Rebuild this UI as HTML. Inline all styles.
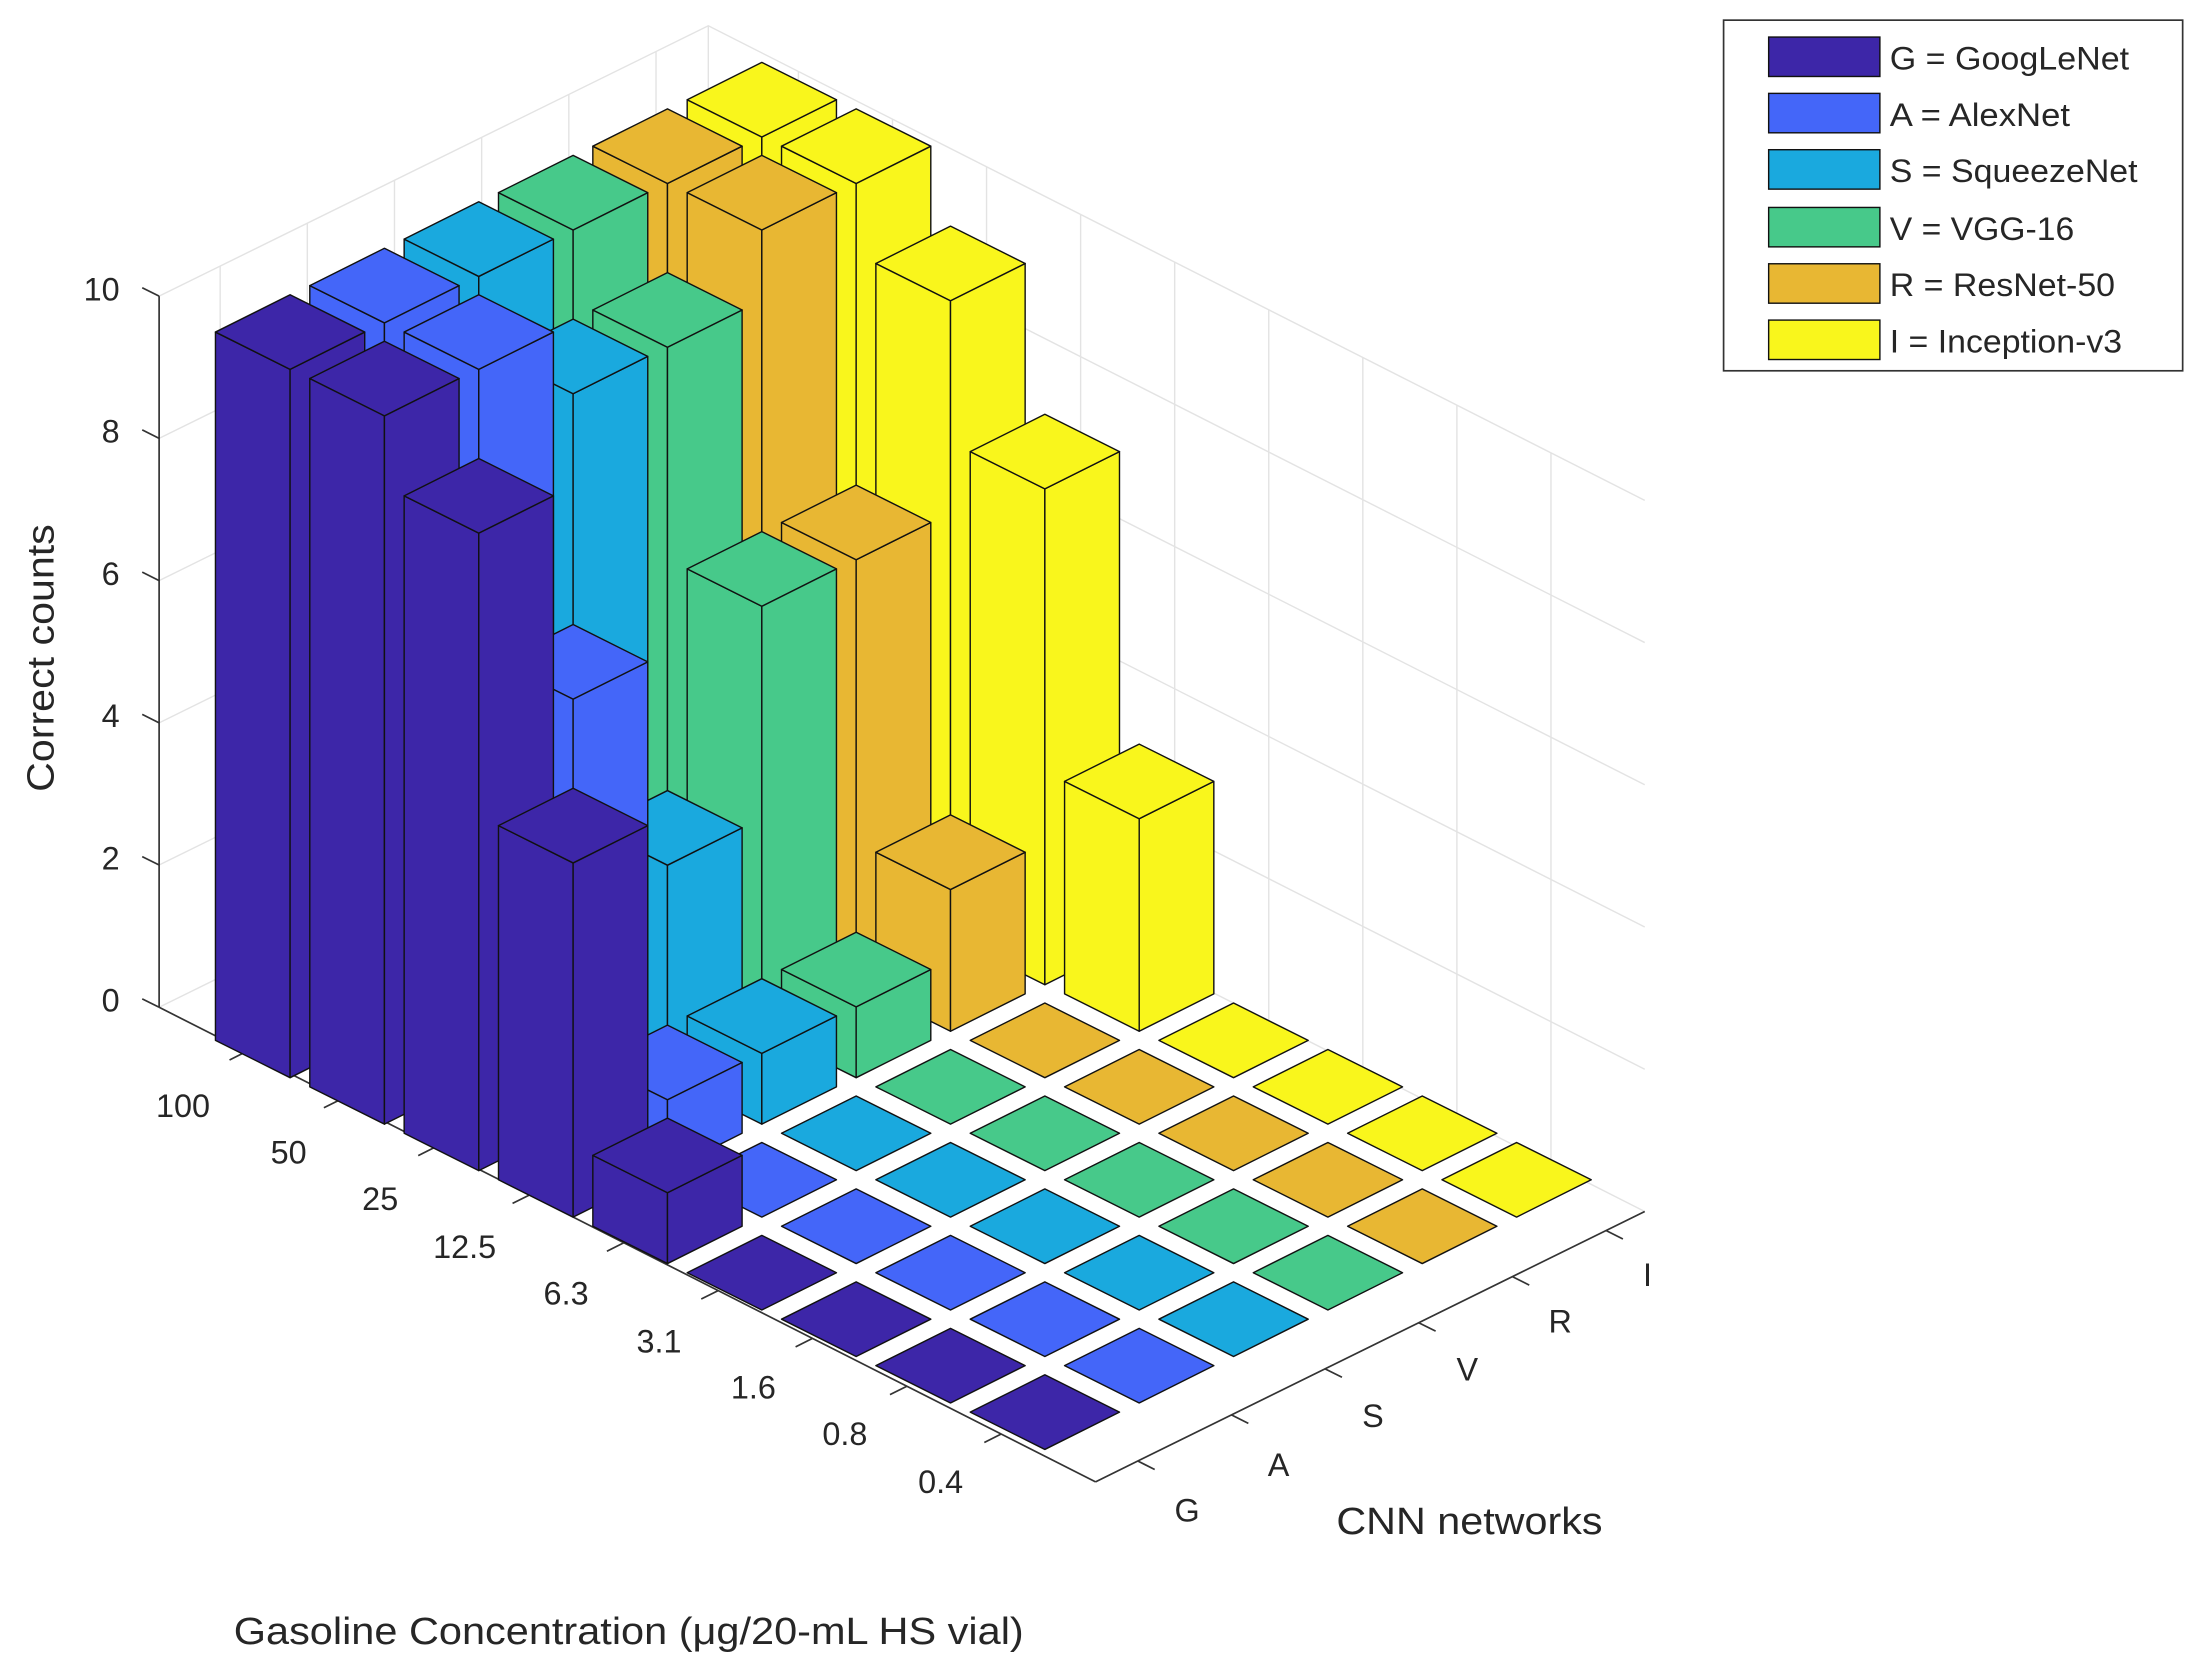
<!DOCTYPE html>
<html><head><meta charset="utf-8">
<style>
html,body{margin:0;padding:0;background:#fff;}
svg{display:block;}
text{font-family:"Liberation Sans",Arial,sans-serif;fill:#262626;}
</style></head>
<body>
<svg id="c" width="2208" height="1678" viewBox="0 0 1568 1191" xmlns="http://www.w3.org/2000/svg">
<g id="grid" stroke="#e3e3e3" stroke-width="1" fill="none"></g>
<g id="axes" stroke="#333" stroke-width="1.2" fill="none"></g>
<g id="bars" stroke="#111" stroke-width="1" stroke-linejoin="round"></g>
<g font-size="23">
<text x="85" y="718" text-anchor="end">0</text>
<text x="85" y="617" text-anchor="end">2</text>
<text x="85" y="516" text-anchor="end">4</text>
<text x="85" y="415" text-anchor="end">6</text>
<text x="85" y="314" text-anchor="end">8</text>
<text x="85" y="213" text-anchor="end">10</text>
<text x="130" y="793" text-anchor="middle">100</text>
<text x="205" y="826" text-anchor="middle">50</text>
<text x="270" y="859" text-anchor="middle">25</text>
<text x="330" y="893" text-anchor="middle">12.5</text>
<text x="402" y="926" text-anchor="middle">6.3</text>
<text x="468" y="960" text-anchor="middle">3.1</text>
<text x="535" y="993" text-anchor="middle">1.6</text>
<text x="600" y="1026" text-anchor="middle">0.8</text>
<text x="668" y="1060" text-anchor="middle">0.4</text>
<text x="843" y="1080" text-anchor="middle">G</text>
<text x="908" y="1048" text-anchor="middle">A</text>
<text x="975" y="1013" text-anchor="middle">S</text>
<text x="1042" y="980" text-anchor="middle">V</text>
<text x="1108" y="946" text-anchor="middle">R</text>
<text x="1170" y="913" text-anchor="middle">I</text>
</g>
<text x="0" y="0" font-size="27" text-anchor="middle" textLength="190" lengthAdjust="spacingAndGlyphs" transform="translate(38,467) rotate(-90)">Correct counts</text>
<text x="949" y="1089" font-size="27" textLength="189" lengthAdjust="spacingAndGlyphs">CNN networks</text>
<text x="166" y="1167" font-size="27" textLength="561" lengthAdjust="spacingAndGlyphs">Gasoline Concentration (μg/20-mL HS vial)</text>
<g>
<rect x="1224" y="14" width="326" height="249" fill="#fff" stroke="#333" stroke-width="1.2"/>
<g stroke="#111" stroke-width="1">
<rect x="1256" y="26" width="79" height="28" fill="#3d26a8"/>
<rect x="1256" y="66" width="79" height="28" fill="#4466f9"/>
<rect x="1256" y="106" width="79" height="28" fill="#1aa9de"/>
<rect x="1256" y="147" width="79" height="28" fill="#47c98a"/>
<rect x="1256" y="187" width="79" height="28" fill="#e8b733"/>
<rect x="1256" y="227" width="79" height="28" fill="#f9f61c"/>
</g>
<g font-size="23" lengthAdjust="spacingAndGlyphs">
<text x="1342" y="49" textLength="170" lengthAdjust="spacingAndGlyphs">G = GoogLeNet</text>
<text x="1342" y="89" textLength="128" lengthAdjust="spacingAndGlyphs">A = AlexNet</text>
<text x="1342" y="129" textLength="176" lengthAdjust="spacingAndGlyphs">S = SqueezeNet</text>
<text x="1342" y="170" textLength="131" lengthAdjust="spacingAndGlyphs">V = VGG-16</text>
<text x="1342" y="210" textLength="160" lengthAdjust="spacingAndGlyphs">R = ResNet-50</text>
<text x="1342" y="250" textLength="165" lengthAdjust="spacingAndGlyphs">I = Inception-v3</text>
</g>
</g>
</svg>
<script>
(function(){
var NS="http://www.w3.org/2000/svg";
function el(p,tag,attrs){var e=document.createElementNS(NS,tag);for(var k in attrs)e.setAttribute(k,attrs[k]);p.appendChild(e);return e;}
var grid=document.getElementById('grid'),axes=document.getElementById('axes'),bars=document.getElementById('bars');
var L=[113,715],B=[503,523],R=[1168,860],F=[778,1052],zs=50.5;
for(var k=0;k<=10;k+=2){
 el(grid,'polyline',{points:L[0]+','+(L[1]-zs*k)+' '+B[0]+','+(B[1]-zs*k)+' '+R[0]+','+(R[1]-zs*k)});
}
for(var j=0;j<6;j++){var x=L[0]+(B[0]-L[0])*(j+0.7)/6.3,y=L[1]+(B[1]-L[1])*(j+0.7)/6.3;
 el(grid,'line',{x1:x,y1:y,x2:x,y2:y-zs*10});}
for(var i=0;i<9;i++){var x=567+66.8*i,y=B[1]+(R[1]-B[1])*(x-B[0])/(R[0]-B[0]);
 el(grid,'line',{x1:x,y1:y,x2:x,y2:y-zs*10});}
el(grid,'line',{x1:B[0],y1:B[1],x2:B[0],y2:B[1]-zs*10});
el(axes,'line',{x1:L[0],y1:L[1],x2:L[0],y2:L[1]-zs*10});
for(var k=0;k<=10;k+=2)el(axes,'line',{x1:L[0],y1:L[1]-zs*k,x2:L[0]-12,y2:L[1]-zs*k-6});
el(axes,'line',{x1:L[0],y1:L[1],x2:F[0],y2:F[1]});
el(axes,'line',{x1:F[0],y1:F[1],x2:R[0],y2:R[1]});
for(var i=0;i<9;i++){var x=175+67*i,y=L[1]+(F[1]-L[1])*(x-L[0])/(F[0]-L[0]);el(axes,'line',{x1:x,y1:y,x2:x-12,y2:y+6});}
for(var j=0;j<6;j++){var x=808+66.5*j,y=F[1]+(R[1]-F[1])*(x-F[0])/(R[0]-F[0]);el(axes,'line',{x1:x,y1:y,x2:x+12,y2:y+6});}
var cols=['#3d26a8','#4466f9','#1aa9de','#47c98a','#e8b733','#f9f61c'];
var H=[[10,10,9,5,1,0,0,0,0],[10,10,6,1,0,0,0,0,0],[10,9,3,1,0,0,0,0,0],[10,9,6,1,0,0,0,0,0],[10,10,6,2,0,0,0,0,0],[10,10,9,7,3,0,0,0,0]];
var cells=[];
for(var i=0;i<9;i++)for(var j=0;j<6;j++)cells.push([i,j]);
cells.sort(function(a,b){return (a[0]-a[1])-(b[0]-b[1]);});
function P(a){return a.map(function(p){return p[0].toFixed(1)+','+p[1].toFixed(1);}).join(' ');}
cells.forEach(function(c){
 var i=c[0],j=c[1],h=H[j][i]*50.3;
 var fx=206+67*(i+j),fy=765+33*(i-j);
 var f=[fx,fy],l=[fx-53,fy-26.5],r=[fx+53,fy-26.5],b=[fx,fy-53];
 var col=cols[j];
 function up(p){return [p[0],p[1]-h];}
 if(h>0){
  el(bars,'polygon',{points:P([l,f,up(f),up(l)]),fill:col});
  el(bars,'polygon',{points:P([f,r,up(r),up(f)]),fill:col});
 }
 el(bars,'polygon',{points:P([up(l),up(f),up(r),up(b)]),fill:col});
});
})();
</script>
</body></html>
